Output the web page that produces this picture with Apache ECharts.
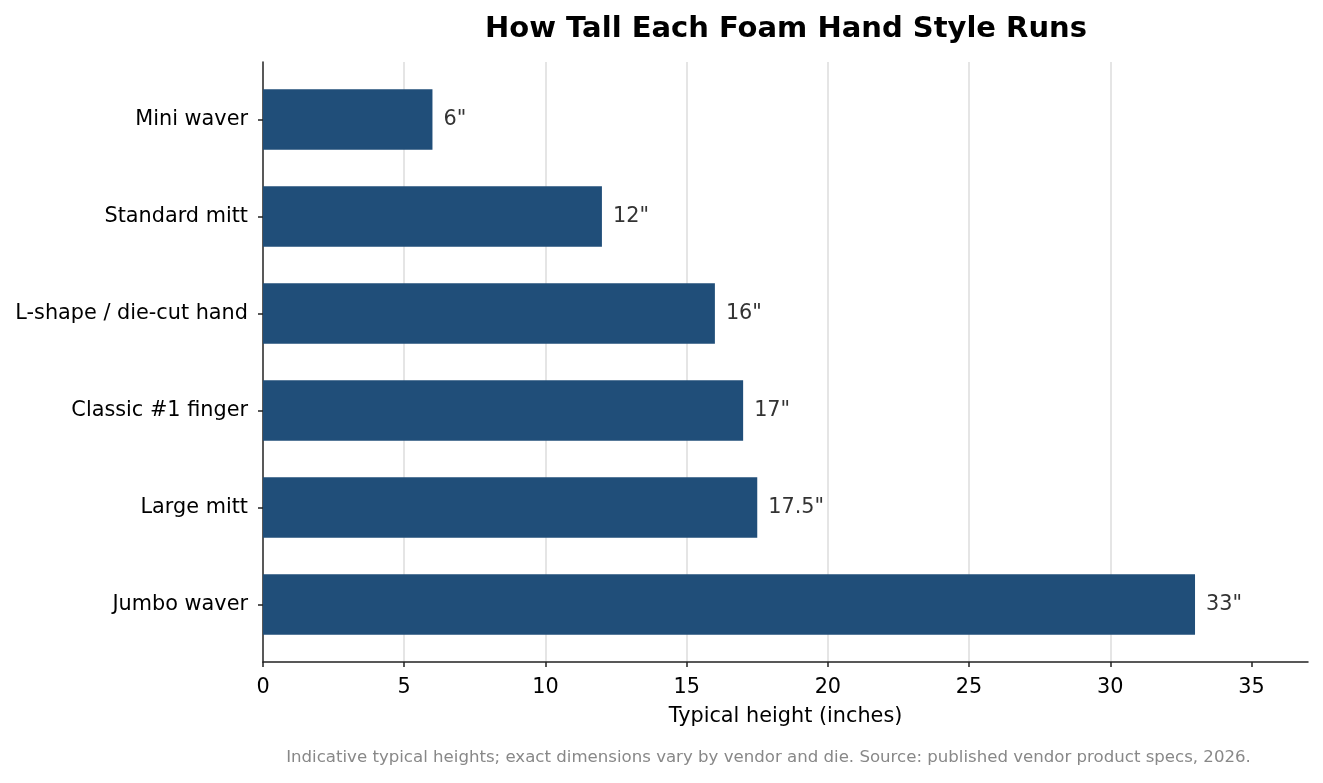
<!DOCTYPE html>
<html>
<head>
<meta charset="utf-8">
<script src="https://cdn.jsdelivr.net/npm/echarts@6/dist/echarts.min.js"></script>
<style>
html,body{margin:0;padding:0;background:#fff;}
#chart{width:1323px;height:783px;}
</style>
</head>
<body>
<div id="chart"></div>
<script>
const categories = ["Mini waver", "Standard mitt", "L-shape / die-cut hand", "Classic #1 finger", "Large mitt", "Jumbo waver"];
const heights = [6, 12, 16, 17, 17.5, 33];
const valueLabels = ['6"', '12"', '16"', '17"', '17.5"', '33"'];
const xTicks = [0, 5, 10, 15, 20, 25, 30, 35];
const titleText = "How Tall Each Foam Hand Style Runs";
const xAxisName = "Typical height (inches)";
const footnote = "Indicative typical heights; exact dimensions vary by vendor and die. Source: published vendor product specs, 2026.";

const FONT = "DejaVu Sans";
const FS = 20.8;
const chart = echarts.init(document.getElementById('chart'), null, {renderer: 'canvas'});
chart.setOption({
  backgroundColor: '#ffffff',
  animation: false,
  title: {
    text: titleText,
    left: 781,
    textAlign: 'center',
    top: 9,
    textStyle: {fontFamily: FONT, fontSize: 29, fontWeight: 'bold', color: '#000', lineHeight: 31}
  },
  grid: [
    {left: 263, right: 15, top: 62, bottom: 121, containLabel: false},
    {left: 263, right: 15, top: 71, bottom: 130, containLabel: false}
  ],
  xAxis: [{
    gridIndex: 0,
    type: 'value',
    min: 0, max: 37, interval: 5,
    name: xAxisName,
    nameLocation: 'middle',
    nameGap: 44,
    nameTextStyle: {fontFamily: FONT, fontSize: FS, color: '#000'},
    axisLine: {show: true, lineStyle: {color: '#222', width: 1.5}},
    axisTick: {show: true, length: 5, customValues: xTicks, lineStyle: {color: '#222', width: 1.5}},
    axisLabel: {fontFamily: FONT, fontSize: FS, color: '#000', margin: 15, customValues: xTicks},
    splitLine: {show: true, showMaxLine: false, showMinLine: false, lineStyle: {color: '#dcdcdc', width: 1.5}}
  }, {
    gridIndex: 1,
    type: 'value',
    min: 0, max: 37, interval: 5,
    show: false
  }],
  yAxis: [{
    gridIndex: 0,
    type: 'value',
    min: 0, max: 1,
    axisLine: {show: true, lineStyle: {color: '#222', width: 1.5}},
    axisTick: {show: false},
    axisLabel: {show: false},
    splitLine: {show: false}
  }, {
    gridIndex: 1,
    type: 'category',
    data: categories,
    inverse: true,
    axisLine: {show: false},
    axisTick: {show: true, length: 5, alignWithLabel: true, lineStyle: {color: '#222', width: 1.5}},
    axisLabel: {fontFamily: FONT, fontSize: FS, color: '#000', margin: 15},
    splitLine: {show: false}
  }],
  series: [{
    type: 'bar',
    xAxisIndex: 1,
    yAxisIndex: 1,
    data: heights,
    barWidth: 60.5,
    itemStyle: {color: '#204e79'},
    label: {
      show: true,
      position: 'right',
      distance: 11,
      fontFamily: FONT,
      fontSize: FS,
      color: '#333',
      formatter: p => valueLabels[p.dataIndex]
    }
  }],
  graphic: [{
    type: 'text',
    x: 768.5,
    y: 758,
    style: {text: footnote, fontFamily: FONT, fontSize: 16.6, fill: '#888888', textAlign: 'center', textVerticalAlign: 'middle'}
  }]
});
</script>
</body>
</html>
